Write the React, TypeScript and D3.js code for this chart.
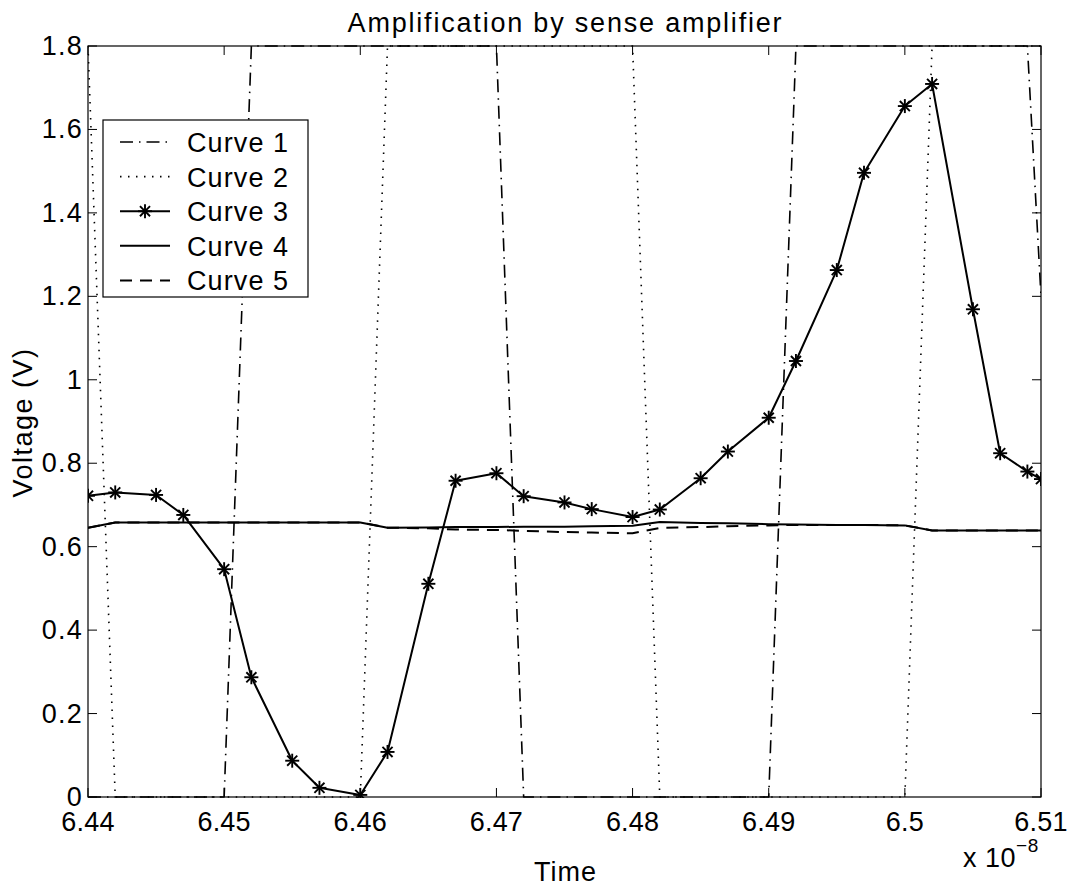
import React, { useEffect } from "react";
import * as d3 from "d3";

const times = [6.44, 6.442, 6.445, 6.447, 6.45, 6.452, 6.455, 6.457, 6.46, 6.462, 6.465, 6.467, 6.47, 6.472, 6.475, 6.477, 6.48, 6.482, 6.485, 6.487, 6.49, 6.492, 6.495, 6.497, 6.5, 6.502, 6.505, 6.507, 6.509, 6.51];

const curve1 = [0, 0, 0, 0, 0, 1.8, 1.8, 1.8, 1.8, 1.8, 1.8, 1.8, 1.8, 0, 0, 0, 0, 0, 0, 0, 0, 1.8, 1.8, 1.8, 1.8, 1.8, 1.8, 1.8, 1.8, 1.2];
const curve2 = [1.8, 0, 0, 0, 0, 0, 0, 0, 0, 1.8, 1.8, 1.8, 1.8, 1.8, 1.8, 1.8, 1.8, 0, 0, 0, 0, 0, 0, 0, 0, 1.8, 1.8, 1.8, 1.8, 1.8];
const curve3 = [0.722, 0.730, 0.724, 0.676, 0.546, 0.287, 0.087, 0.022, 0.005, 0.108, 0.511, 0.758, 0.776, 0.721, 0.706, 0.690, 0.671, 0.689, 0.764, 0.828, 0.909, 1.045, 1.263, 1.496, 1.656, 1.709, 1.169, 0.824, 0.780, 0.762];
const curve4 = [0.645, 0.658, 0.658, 0.658, 0.658, 0.658, 0.658, 0.658, 0.658, 0.6455, 0.646, 0.647, 0.647, 0.648, 0.648, 0.649, 0.650, 0.659, 0.657, 0.656, 0.654, 0.653, 0.652, 0.652, 0.651, 0.639, 0.639, 0.639, 0.639, 0.639];
const curve5 = [0.645, 0.658, 0.658, 0.658, 0.658, 0.658, 0.658, 0.658, 0.658, 0.6455, 0.644, 0.641, 0.640, 0.638, 0.635, 0.634, 0.632, 0.645, 0.647, 0.649, 0.651, 0.652, 0.652, 0.652, 0.651, 0.639, 0.639, 0.639, 0.639, 0.639];

const seriesNames = ["Curve 1", "Curve 2", "Curve 3", "Curve 4", "Curve 5"];
const xTicks = [6.44, 6.45, 6.46, 6.47, 6.48, 6.49, 6.5, 6.51];
const yTicks = [0, 0.2, 0.4, 0.6, 0.8, 1, 1.2, 1.4, 1.6, 1.8];
const title = "Amplification by sense amplifier";
const xLabel = "Time";
const yLabel = "Voltage (V)";

const W = 1075;
const H = 887;
const M = { left: 88, right: 1041, top: 46, bottom: 797 };
const FONT = "'Liberation Sans', Arial, Helvetica, sans-serif";
const FS = 27;

const styles = [
  { dash: "13 6 1.5 6", width: 1.6, marker: false },
  { dash: "1.5 6.5", width: 1.6, marker: false },
  { dash: null, width: 2, marker: true },
  { dash: null, width: 2, marker: false },
  { dash: "12 8", width: 2, marker: false },
];

function Star({ x, y, r }: { x: number; y: number; r: number }) {
  const d = r * 0.72;
  return (
    <g stroke="#000" strokeWidth={1.9}>
      <line x1={x - r} y1={y} x2={x + r} y2={y} />
      <line x1={x} y1={y - r} x2={x} y2={y + r} />
      <line x1={x - d} y1={y - d} x2={x + d} y2={y + d} />
      <line x1={x - d} y1={y + d} x2={x + d} y2={y - d} />
    </g>
  );
}

export default function App() {
  useEffect(() => {
    document.body.style.margin = "0";
  }, []);

  const x = d3.scaleLinear().domain([6.44, 6.51]).range([M.left, M.right]);
  const y = d3.scaleLinear().domain([0, 1.8]).range([M.bottom, M.top]);
  const allSeries = [curve1, curve2, curve3, curve4, curve5];
  const line = d3
    .line<number>()
    .x((_, i) => x(times[i]))
    .y((v) => y(v));

  const tickLen = 9;
  const legend = { x: 103, y: 120, w: 205, h: 177, rowH: 34.6 };

  return (
    <svg width={W} height={H} style={{ display: "block", background: "#fff" }} fontFamily={FONT}>
      <rect x={0} y={0} width={W} height={H} fill="#fff" />
      <defs>
        <clipPath id="plotClip">
          <rect x={M.left} y={M.top - 1} width={M.right - M.left} height={M.bottom - M.top + 2} />
        </clipPath>
      </defs>

      {/* ticks */}
      <g stroke="#000" strokeWidth={1}>
        {xTicks.map((t) => (
          <g key={"xt" + t}>
            <line x1={x(t)} x2={x(t)} y1={M.bottom} y2={M.bottom - tickLen} />
            <line x1={x(t)} x2={x(t)} y1={M.top} y2={M.top + tickLen} />
          </g>
        ))}
        {yTicks.map((t) => (
          <g key={"yt" + t}>
            <line x1={M.left} x2={M.left + tickLen} y1={y(t)} y2={y(t)} />
            <line x1={M.right} x2={M.right - tickLen} y1={y(t)} y2={y(t)} />
          </g>
        ))}
      </g>

      {/* curves */}
      <g clipPath="url(#plotClip)" fill="none">
        {allSeries.map((s, k) => (
          <path
            key={"c" + k}
            d={line(s) || ""}
            stroke="#000"
            strokeWidth={styles[k].width}
            strokeDasharray={styles[k].dash || undefined}
            strokeLinejoin="round"
          />
        ))}
        {curve3.map((v, i) => (
          <Star key={"m" + i} x={x(times[i])} y={y(v)} r={7} />
        ))}
      </g>

      {/* box */}
      <rect x={M.left} y={M.top} width={M.right - M.left} height={M.bottom - M.top} fill="none" stroke="#000" strokeWidth={1.2} />

      {/* tick labels */}
      <g fontSize={FS} fill="#000">
        {xTicks.map((t) => (
          <text key={"xl" + t} x={x(t)} y={M.bottom + 34} textAnchor="middle" letterSpacing={0.2}>
            {d3.format("~g")(t)}
          </text>
        ))}
        {yTicks.map((t) => (
          <text key={"yl" + t} x={M.left - 5} y={y(t) + 9} textAnchor="end" letterSpacing={1.2}>
            {d3.format("~g")(t)}
          </text>
        ))}
      </g>

      {/* multiplier */}
      <text x={963} y={867} fontSize={FS} fill="#000" letterSpacing={0.5}>
        x 10
        <tspan fontSize={19} dy={-15}>−8</tspan>
      </text>

      {/* title and labels */}
      <text x={(M.left + M.right) / 2 + 1} y={32} fontSize={FS} textAnchor="middle" fill="#000" letterSpacing={1.8}>
        {title}
      </text>
      <text x={(M.left + M.right) / 2 + 1} y={881} fontSize={FS} textAnchor="middle" fill="#000" letterSpacing={1}>
        {xLabel}
      </text>
      <text
        transform={`translate(32, ${(M.top + M.bottom) / 2 + 1}) rotate(-90)`}
        fontSize={FS}
        textAnchor="middle"
        fill="#000"
        letterSpacing={1.5}
      >
        {yLabel}
      </text>

      {/* legend */}
      <g>
        <rect x={legend.x} y={legend.y} width={legend.w} height={legend.h} fill="#fff" stroke="#000" strokeWidth={1.2} />
        {seriesNames.map((name, k) => {
          const cy = legend.y + 22 + k * legend.rowH;
          return (
            <g key={"lg" + k}>
              <line
                x1={120}
                x2={170}
                y1={cy}
                y2={cy}
                stroke="#000"
                strokeWidth={styles[k].width}
                strokeDasharray={styles[k].dash || undefined}
              />
              {styles[k].marker && <Star x={145} y={cy} r={7} />}
              <text x={187} y={cy + 10} fontSize={FS} fill="#000" letterSpacing={1.1}>
                {name}
              </text>
            </g>
          );
        })}
      </g>
    </svg>
  );
}
